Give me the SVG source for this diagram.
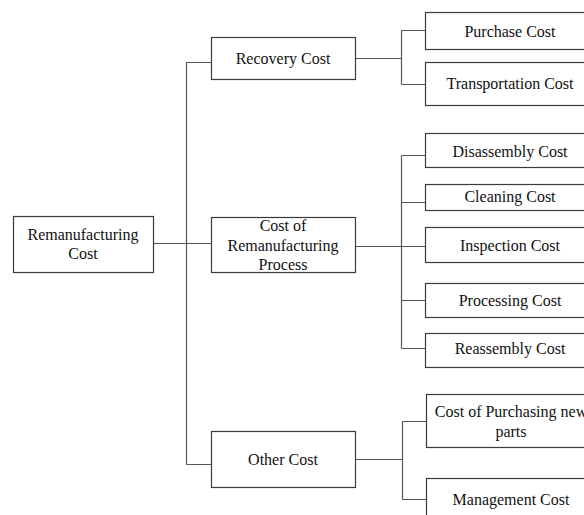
<svg xmlns="http://www.w3.org/2000/svg" width="584" height="515" viewBox="0 0 584 515">
<style>
.box{fill:#fff;stroke:#3a3a3a;stroke-width:1.2}
.ln{fill:none;stroke:#555;stroke-width:1.2}
text{font-family:"Liberation Serif","Times New Roman",serif;font-size:16px;fill:#111;text-anchor:middle}
</style>
<rect width="584" height="515" fill="#fff"/>
<g id="connectors">
<path class="ln" d="M153 243.5H211 M186.5 62.5V464.5 M186.5 62.5H211 M186.5 464.5H211"/>
<path class="ln" d="M355 58.5H401.5 M401.5 30.5V84.5 M401.5 30.5H425 M401.5 84.5H425"/>
<path class="ln" d="M355 246.5H401.5 M401.5 155.5V348.5 M401.5 155.5H425 M401.5 202.5H425 M401.5 246.5H425 M401.5 300.5H425 M401.5 348.5H425"/>
<path class="ln" d="M355 459.5H402.5 M402.5 421.5V499.5 M402.5 421.5H426 M402.5 499.5H426"/>
</g>
<g id="root"><rect class="box" x="13.5" y="216.5" width="140" height="56"/><text x="83" y="240">Remanufacturing</text><text x="83" y="259">Cost</text></g>
<g id="recovery"><rect class="box" x="211.5" y="37.5" width="144" height="42"/><text x="283" y="64">Recovery Cost</text></g>
<g id="process"><rect class="box" x="211.5" y="217.5" width="144" height="55"/><text x="283" y="231">Cost of</text><text x="283" y="251">Remanufacturing</text><text x="283" y="270">Process</text></g>
<g id="other"><rect class="box" x="211.5" y="431.5" width="144" height="56"/><text x="283" y="465">Other Cost</text></g>
<g id="purchase"><rect class="box" x="425.5" y="12.5" width="170" height="37"/><text x="510" y="37">Purchase Cost</text></g>
<g id="transport"><rect class="box" x="425.5" y="62.5" width="170" height="43"/><text x="510" y="89">Transportation Cost</text></g>
<g id="disassembly"><rect class="box" x="425.5" y="133.5" width="170" height="34"/><text x="510" y="157">Disassembly Cost</text></g>
<g id="cleaning"><rect class="box" x="425.5" y="184.5" width="170" height="26"/><text x="510" y="202">Cleaning Cost</text></g>
<g id="inspection"><rect class="box" x="425.5" y="227.5" width="170" height="35"/><text x="510" y="251">Inspection Cost</text></g>
<g id="processing"><rect class="box" x="425.5" y="283.5" width="170" height="34"/><text x="510" y="306">Processing Cost</text></g>
<g id="reassembly"><rect class="box" x="425.5" y="333.5" width="170" height="34"/><text x="510" y="354">Reassembly Cost</text></g>
<g id="newparts"><rect class="box" x="426.5" y="394.5" width="170" height="53"/><text x="511" y="417">Cost of Purchasing new</text><text x="511" y="437">parts</text></g>
<g id="management"><rect class="box" x="426.5" y="478.5" width="170" height="50"/><text x="511" y="505">Management Cost</text></g>
</svg>
